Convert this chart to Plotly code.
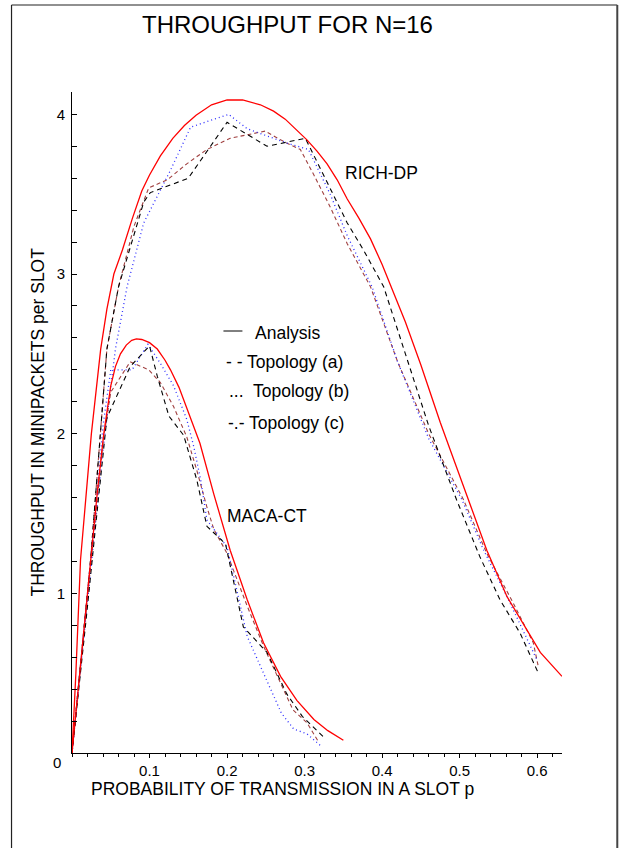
import plotly.graph_objects as go

# ---------------- data ----------------
rich_analysis_p = [0, 0.005, 0.011, 0.018, 0.025, 0.037, 0.045, 0.054, 0.065, 0.078, 0.09, 0.1,
                   0.114, 0.13, 0.145, 0.16, 0.18, 0.2, 0.22, 0.243, 0.26, 0.275, 0.29, 0.303,
                   0.316, 0.329, 0.342, 0.355, 0.37, 0.385, 0.4, 0.413, 0.43, 0.45, 0.475, 0.49,
                   0.511, 0.535, 0.561, 0.587, 0.604, 0.632]
rich_analysis_v = [0, 0.5, 1.21, 1.62, 2.0, 2.53, 2.78, 3.0, 3.15, 3.35, 3.52, 3.62,
                   3.74, 3.85, 3.93, 3.995, 4.06, 4.09, 4.09, 4.06, 4.02, 3.97, 3.9, 3.84,
                   3.77, 3.69, 3.59, 3.47, 3.35, 3.22, 3.06, 2.9, 2.7, 2.43, 2.07, 1.87,
                   1.59, 1.27, 0.98, 0.77, 0.63, 0.48]

rich_a_p = [0, 0.012, 0.024, 0.035, 0.045, 0.06, 0.0925, 0.101, 0.15, 0.2, 0.2515, 0.301, 0.312,
            0.333, 0.355, 0.376, 0.402, 0.43, 0.46, 0.496, 0.526, 0.552, 0.578, 0.6015]
rich_a_v = [0, 0.6, 1.21, 1.9, 2.53, 2.92, 3.45, 3.51, 3.60, 3.95, 3.80, 3.85, 3.74,
            3.53, 3.32, 3.15, 2.92, 2.5, 2.05, 1.586, 1.23, 0.96, 0.75, 0.50]

rich_b_p = [0, 0.012, 0.025, 0.04, 0.056, 0.071, 0.0925, 0.127, 0.153, 0.202, 0.226, 0.277, 0.305,
            0.333, 0.355, 0.387, 0.42, 0.46, 0.503, 0.531, 0.561, 0.595, 0.6]
rich_b_v = [0, 0.58, 1.2, 1.9, 2.53, 2.92, 3.32, 3.65, 3.92, 4.0, 3.91, 3.82, 3.78,
            3.5, 3.24, 2.92, 2.45, 1.97, 1.586, 1.27, 0.98, 0.625, 0.58]

rich_c_p = [0, 0.012, 0.024, 0.035, 0.045, 0.06, 0.08, 0.099, 0.123, 0.148, 0.174, 0.204, 0.249,
            0.273, 0.2945, 0.312, 0.333, 0.355, 0.385, 0.42, 0.46, 0.505, 0.535, 0.569, 0.595, 0.6015]
rich_c_v = [0, 0.6, 1.21, 1.9, 2.53, 2.92, 3.3, 3.54, 3.59, 3.69, 3.78, 3.85, 3.895,
            3.83, 3.78, 3.62, 3.42, 3.19, 2.92, 2.45, 2.0, 1.586, 1.25, 0.94, 0.69, 0.54]

maca_analysis_p = [0, 0.01, 0.02, 0.026, 0.033, 0.041, 0.046, 0.05, 0.056, 0.0625, 0.07, 0.077,
                   0.083, 0.09, 0.1, 0.11, 0.12, 0.127, 0.138, 0.148, 0.165, 0.183, 0.204,
                   0.226, 0.247, 0.269, 0.29, 0.312, 0.33, 0.35]
maca_analysis_v = [0, 0.5, 1.0, 1.3, 1.65, 2.0, 2.18, 2.3, 2.42, 2.5, 2.555, 2.585,
                   2.594, 2.59, 2.57, 2.53, 2.46, 2.40, 2.29, 2.16, 1.94, 1.62, 1.27,
                   0.96, 0.69, 0.48, 0.33, 0.21, 0.14, 0.08]

maca_a_p = [0, 0.01, 0.02, 0.03, 0.045, 0.075, 0.1, 0.11, 0.125, 0.144, 0.161, 0.174, 0.198,
            0.221, 0.2515, 0.277, 0.297, 0.3245]
maca_a_v = [0, 0.45, 0.92, 1.4, 2.1, 2.42, 2.55, 2.36, 2.11, 1.99, 1.71, 1.42, 1.31,
            0.79, 0.63, 0.37, 0.23, 0.10]

maca_b_p = [0, 0.01, 0.02, 0.03, 0.04, 0.05, 0.0775, 0.098, 0.114, 0.131, 0.148, 0.157, 0.166,
            0.174, 0.2, 0.217, 0.226, 0.247, 0.27, 0.286, 0.303, 0.322]
maca_b_v = [0, 0.5, 1.0, 1.5, 2.05, 2.40, 2.40, 2.56, 2.44, 2.30, 2.09, 1.92, 1.71,
            1.46, 1.29, 0.92, 0.73, 0.5, 0.25, 0.15, 0.12, 0.04]

maca_c_p = [0, 0.01, 0.02, 0.03, 0.04, 0.05, 0.075, 0.099, 0.114, 0.131, 0.148, 0.161, 0.174,
            0.183, 0.2, 0.226, 0.247, 0.265, 0.285, 0.303, 0.318]
maca_c_v = [0, 0.48, 0.97, 1.45, 1.95, 2.26, 2.45, 2.40, 2.32, 2.17, 1.98, 1.77, 1.54,
            1.40, 1.25, 0.92, 0.67, 0.48, 0.27, 0.19, 0.07]

x_tick_vals = [0.1, 0.2, 0.3, 0.4, 0.5, 0.6]
x_tick_text = ["0.1", "0.2", "0.3", "0.4", "0.5", "0.6"]
y_tick_vals = [1, 2, 3, 4]
y_tick_text = ["1", "2", "3", "4"]

# ---------------- layout geometry (screen pixels, body margin removed) ----------------
W, H = 624, 848
X0, X1 = 71.5, 561.7      # plot area left/right
Y0, Y1 = 92.0, 753.0      # plot area top/bottom
L, R, T, B = X0, W - X1, Y0, H - Y1
PW, PH = X1 - X0, Y1 - Y0
FONT = "Liberation Sans, Arial, sans-serif"


def px(xp):
    return (xp - X0) / PW


def py(yp):
    return (Y1 - yp) / PH


RED = "#ff0000"
BLACK = "#000000"
BLUE = "#2a2aff"
BROWN = "#a04040"

fig = go.Figure()

styles = {
    "analysis": dict(color=RED, width=1.3, dash="solid"),
    "a": dict(color=BLACK, width=1.1, dash="5px,4px"),
    "b": dict(color=BLUE, width=1.3, dash="1px,3px"),
    "c": dict(color=BROWN, width=1.1, dash="4px,3px"),
}

series = [
    (rich_c_p, rich_c_v, "c"),
    (rich_b_p, rich_b_v, "b"),
    (rich_a_p, rich_a_v, "a"),
    (maca_c_p, maca_c_v, "c"),
    (maca_b_p, maca_b_v, "b"),
    (maca_a_p, maca_a_v, "a"),
    (rich_analysis_p, rich_analysis_v, "analysis"),
    (maca_analysis_p, maca_analysis_v, "analysis"),
]
for xs, ys, k in series:
    fig.add_trace(go.Scatter(x=xs, y=ys, mode="lines", line=styles[k], showlegend=False,
                             hoverinfo="skip"))


def txt(text, x, y, anchor="center", size=17.5, angle=0):
    return dict(text=text, x=px(x), y=py(y), xref="paper", yref="paper", showarrow=False,
                xanchor=anchor, yanchor="middle", textangle=angle,
                font=dict(family=FONT, size=size, color="black"))


annotations = [
    txt("THROUGHPUT FOR N=16", 287, 25, size=24),
    txt("RICH-DP", 381, 173),
    txt("MACA-CT", 266.5, 516),
    txt("Analysis", 253, 333, anchor="left"),
    txt("- - Topology (a)", 224, 362, anchor="left"),
    txt("...  Topology (b)", 227, 391, anchor="left"),
    txt("-.- Topology (c)", 226, 423, anchor="left"),
    txt("0", 56.7, 762.5, size=15),
    txt("PROBABILITY OF TRANSMISSION IN A SLOT p", 282.5, 789),
    txt("THROUGHPUT IN MINIPACKETS per SLOT", 37, 422, angle=-90),
]

shapes = [
    # outer frame
    dict(type="line", xref="paper", yref="paper", x0=px(11), x1=px(11), y0=py(870), y1=py(5),
         line=dict(color="#222222", width=1.2)),
    dict(type="line", xref="paper", yref="paper", x0=px(11), x1=px(617), y0=py(5), y1=py(5),
         line=dict(color="#222222", width=1.2)),
    dict(type="line", xref="paper", yref="paper", x0=px(617), x1=px(617), y0=py(870), y1=py(5),
         line=dict(color="#444444", width=2)),
    # legend line for Analysis
    dict(type="line", xref="paper", yref="paper", x0=px(223), x1=px(242), y0=py(331), y1=py(331),
         line=dict(color="black", width=1)),
]

fig.update_layout(
    width=W, height=H,
    margin=dict(l=L, r=R, t=T, b=B, pad=0),
    paper_bgcolor="white", plot_bgcolor="white",
    showlegend=False,
    annotations=annotations,
    shapes=shapes,
    font=dict(family=FONT, color="black"),
    xaxis=dict(
        range=[0, 0.632], showgrid=False, zeroline=False, showline=True, linecolor="black",
        linewidth=1, ticks="outside", ticklen=4, tickcolor="black", tickwidth=1,
        tickvals=x_tick_vals, ticktext=x_tick_text,
        tickfont=dict(family=FONT, size=15, color="black"),
        minor=dict(dtick=0.02, tick0=0, ticks="outside", ticklen=3, tickcolor="black"),
        fixedrange=True,
    ),
    yaxis=dict(
        range=[0, 4.14], showgrid=False, zeroline=False, showline=True, linecolor="black",
        linewidth=1, ticks="inside", ticklen=5, tickcolor="black", tickwidth=1,
        tickvals=y_tick_vals, ticktext=y_tick_text, ticklabelstandoff=3,
        tickfont=dict(family=FONT, size=15, color="black"),
        minor=dict(dtick=0.2, tick0=0, ticks="inside", ticklen=5, tickcolor="black"),
        fixedrange=True,
    ),
)

fig.write_html(
    "out.html",
    config={"displayModeBar": False, "staticPlot": True},
    post_script="document.body.style.margin='0px';document.body.style.overflow='hidden';",
)
